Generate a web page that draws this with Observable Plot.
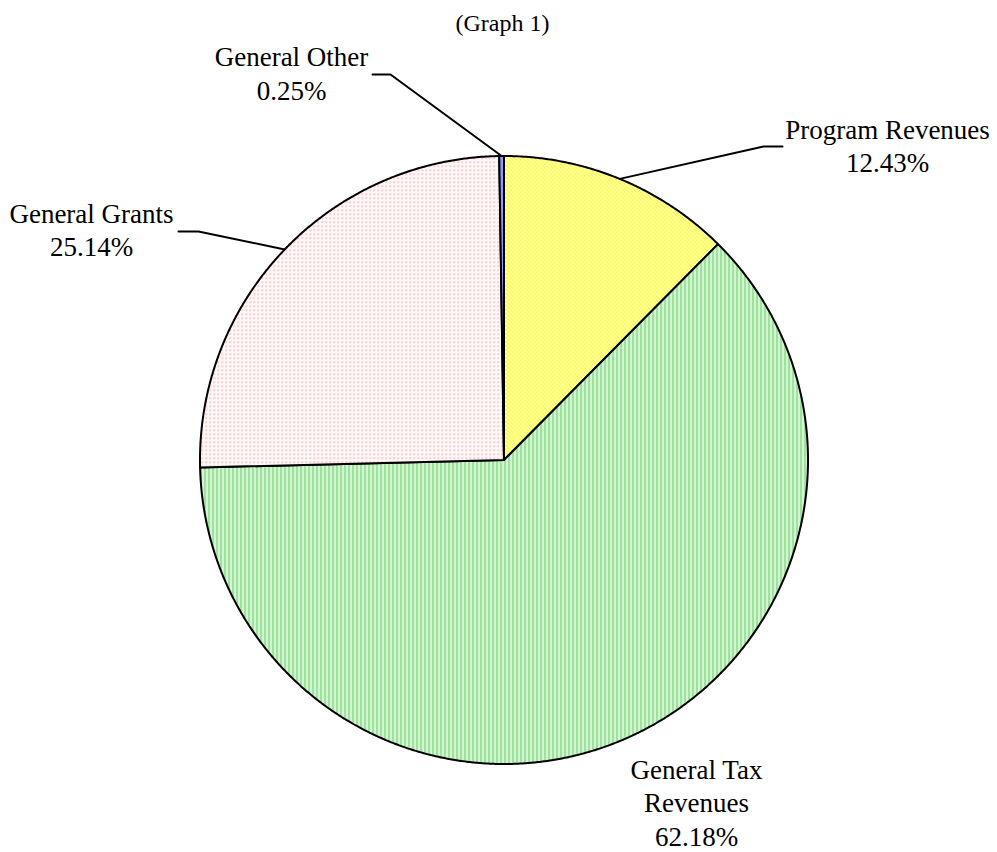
<!DOCTYPE html>
<html>
<head>
<meta charset="utf-8">
<script src="https://cdn.jsdelivr.net/npm/d3@7"></script>
<script src="https://cdn.jsdelivr.net/npm/@observablehq/plot@0.6"></script>
<style>
  html, body { margin: 0; padding: 0; background: #fff; overflow: hidden; }
  svg { display: block; }
</style>
</head>
<body>
<div id="chart"></div>
<script>
// ---- data ----
const title = "(Graph 1)";
const categories = ["Program Revenues", "General Tax Revenues", "General Grants", "General Other"];
const labelNames = ["Program Revenues", "General Tax\nRevenues", "General Grants", "General Other"];
const shares = [12.43, 62.18, 25.14, 0.25];
const patterns = ["pYellow", "pGreen", "pPink", "pBlue"];

// ---- layout ----
const W = 997, H = 852;
const cx = 503.5, cy = 459.5, R = 304;
const labelCenters = [[887, 144.5], [696, 801], [91, 228.5], [291, 72]];
const elbows = [[[763, 146], [782, 146]], null, [[198, 231], [178, 231]], [[390, 74], [372, 74]]];

const arcs = d3.pie().sort(null).value(d => d)(shares);
const pt = a => ({x: cx + R * Math.sin(a), y: cy - R * Math.cos(a)});

const slicePts = [];
arcs.forEach((a, i) => {
  const k = categories[i];
  const fill = `url(#${patterns[i]})`;
  slicePts.push({k, fill, x: cx, y: cy});
  const n = Math.max(2, Math.ceil((a.endAngle - a.startAngle) / 0.005));
  for (let j = 0; j <= n; j++) {
    const p = pt(a.startAngle + (a.endAngle - a.startAngle) * j / n);
    slicePts.push({k, fill, x: p.x, y: p.y});
  }
  slicePts.push({k, fill, x: cx, y: cy});
});

const leaderPts = [];
arcs.forEach((a, i) => {
  if (!elbows[i]) return;
  const p = pt((a.startAngle + a.endAngle) / 2);
  leaderPts.push({k: categories[i], x: p.x, y: p.y});
  elbows[i].forEach(e => leaderPts.push({k: categories[i], x: e[0], y: e[1]}));
});

const labelRows = categories.map((c, i) => ({
  x: labelCenters[i][0], y: labelCenters[i][1],
  text: labelNames[i] + "\n" + shares[i].toFixed(2) + "%"
}));

const svg = Plot.plot({
  width: W, height: H, margin: 0,
  x: {domain: [0, W], range: [0, W], axis: null},
  y: {domain: [0, H], range: [0, H], axis: null},
  color: {type: "identity"},
  style: {background: "white"},
  marks: [
    Plot.line(slicePts, {x: "x", y: "y", z: "k", fill: "fill", stroke: "black", strokeWidth: 2, strokeLinejoin: "round", curve: "linear"}),
    Plot.line(leaderPts, {x: "x", y: "y", z: "k", stroke: "black", strokeWidth: 2}),
    Plot.text(labelRows, {x: "x", y: "y", text: "text", fontSize: 27, fontFamily: "Liberation Serif", lineHeight: 1.24, fill: "black"}),
    Plot.text([title], {x: () => 502, y: () => 23, text: d => d, fontSize: 24, fontFamily: "Liberation Serif", fill: "black"})
  ]
});

const defs = `
<defs>
  <pattern id="pYellow" width="4" height="4" patternUnits="userSpaceOnUse">
    <rect width="4" height="4" fill="#ffffff"/>
    <rect x="0" y="0" width="1" height="1" fill="#ffff00"/><rect x="1" y="0" width="1" height="1" fill="#ffff00"/>
    <rect x="1" y="1" width="1" height="1" fill="#ffff00"/><rect x="2" y="1" width="1" height="1" fill="#ffff00"/>
    <rect x="2" y="2" width="1" height="1" fill="#ffff00"/><rect x="3" y="2" width="1" height="1" fill="#ffff00"/>
    <rect x="3" y="3" width="1" height="1" fill="#ffff00"/><rect x="0" y="3" width="1" height="1" fill="#ffff00"/>
  </pattern>
  <pattern id="pGreen" width="4" height="4" patternUnits="userSpaceOnUse">
    <rect width="4" height="4" fill="#b3ebb3"/>
    <rect x="0" width="1" height="4" fill="#88d988"/>
    <rect x="2" width="1" height="4" fill="#f0fff0"/>
  </pattern>
  <pattern id="pPink" width="4" height="4" patternUnits="userSpaceOnUse">
    <rect width="4" height="4" fill="#fff8f8"/>
    <rect x="1" y="1" width="1" height="1" fill="#ff9c9c"/>
    <rect x="2" y="1" width="1" height="1" fill="#ffd0d0"/>
    <rect x="1" y="2" width="1" height="1" fill="#ffd0d0"/>
  </pattern>
  <pattern id="pBlue" width="2" height="2" patternUnits="userSpaceOnUse">
    <rect width="2" height="2" fill="#ffffff"/>
    <rect x="0" width="1" height="2" fill="#2b2bff"/>
  </pattern>
</defs>`;
svg.insertAdjacentHTML("afterbegin", defs);
document.getElementById("chart").appendChild(svg);
</script>
</body>
</html>
